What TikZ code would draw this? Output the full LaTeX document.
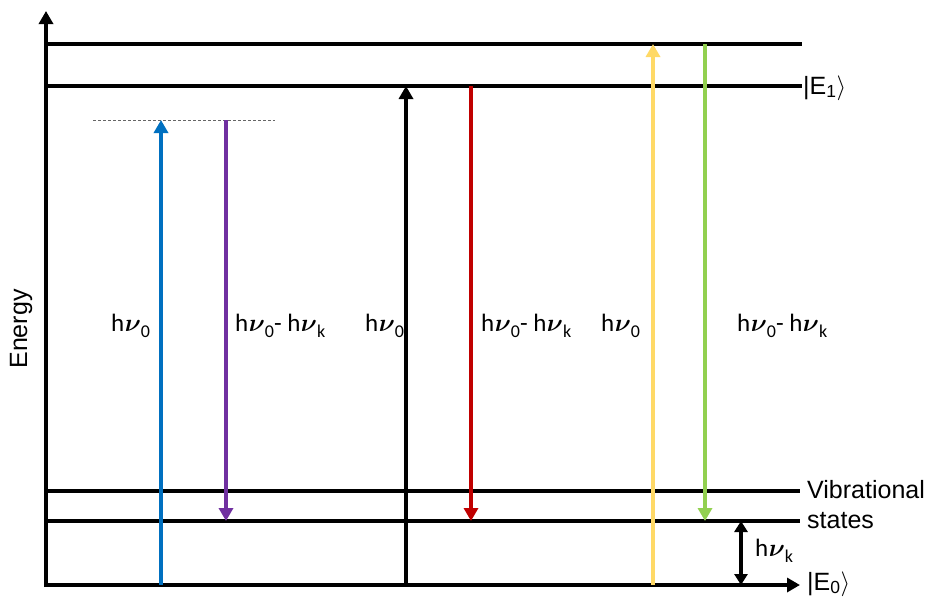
\documentclass[tikz,border=0pt]{standalone}
\usepackage{fontspec}
\setmainfont{Liberation Sans}
\newfontfamily\calib{Carlito}
\usepackage{bm}
\usetikzlibrary{arrows.meta}
\definecolor{cblue}{HTML}{0070C0}
\definecolor{cpurple}{HTML}{7030A0}
\definecolor{cred}{HTML}{C00000}
\definecolor{cyellow}{HTML}{FFD966}
\definecolor{cgreen}{HTML}{92D050}
\tikzset{
  level/.style={line width=3.8pt},
  axisline/.style={line width=3.8pt,-{Triangle[width=14pt,length=13pt]}},
  trans/.style={line width=3.6pt,-{Triangle[width=14pt,length=13pt]}},
  lbl/.style={font=\fontsize{25}{30}\selectfont,anchor=west,inner sep=0pt},
  hlbl/.style={font=\calib\fontsize{25}{30}\selectfont,anchor=west,inner sep=0pt},
}
\newcommand{\mysub}[1]{\raisebox{-0.22em}{\fontsize{18}{20}\selectfont #1}}
\newcommand{\hnu}[1]{h\kern0.5pt$\bm{\nu}$\mysub{#1}}
\begin{document}
\begin{tikzpicture}[x=1pt,y=-1pt]
\useasboundingbox (0,0) rectangle (930,598);
% coordinates
\coordinate (Ytop) at (46,11);
\coordinate (Xend) at (800,585);
\coordinate (T0) at (46,44);  \coordinate (T1) at (802,44);
\coordinate (E0) at (46,86);  \coordinate (E1) at (802,86);
\coordinate (V0) at (46,491); \coordinate (V1) at (800,491);
\coordinate (S0) at (46,521); \coordinate (S1) at (800,521);
\coordinate (D0) at (93,120); \coordinate (D1) at (275,120);
\coordinate (Ybot) at (46,587); \coordinate (Xbeg) at (44,585);
% levels
\draw[level] (T0) -- (T1);
\draw[level] (E0) -- (E1);
\draw[level] (V0) -- (V1);
\draw[level] (S0) -- (S1);
\draw[gray!80!black,line width=0.8pt,dash pattern=on 3pt off 2pt] (D0) -- (D1);
% axes
\draw[axisline] (Ybot) -- (Ytop);
\draw[axisline] (Xbeg) -- (Xend);
% transitions
\coordinate (b0) at (161,585); \coordinate (b1) at (161,120);
\coordinate (p0) at (226,120); \coordinate (p1) at (226,521);
\coordinate (k0) at (406,585); \coordinate (k1) at (406,86);
\coordinate (r0) at (471,86);  \coordinate (r1) at (471,521);
\coordinate (y0) at (653,585); \coordinate (y1) at (653,44);
\coordinate (g0) at (705,44);  \coordinate (g1) at (705,521);
\coordinate (h0) at (741,521); \coordinate (h1) at (741,585);
\draw[trans,cblue] (b0) -- (b1);
\draw[trans,cpurple] (p0) -- (p1);
\draw[trans,black] (k0) -- (k1);
\draw[trans,cred] (r0) -- (r1);
\draw[trans,cyellow] (y0) -- (y1);
\draw[trans,cgreen] (g0) -- (g1);
\draw[line width=3.2pt,{Triangle[width=13pt,length=11pt]}-{Triangle[width=13pt,length=11pt]}] (h0) -- (h1);
% labels
\node[hlbl] (l1) at (111,326) {\hnu{0}};
\node[hlbl] (l2) at (235,326) {\hnu{0}- \hnu{k}};
\node[hlbl] (l3) at (365,326) {\hnu{0}};
\node[hlbl] (l4) at (481,326) {\hnu{0}- \hnu{k}};
\node[hlbl] (l5) at (601,326) {\hnu{0}};
\node[hlbl] (l6) at (737,326) {\hnu{0}- \hnu{k}};
\node[hlbl] (l7) at (755,551) {\hnu{k}};
\node[lbl] (e1) at (803,88) {|E\textsubscript{1}$\rangle$};
\node[lbl] (vib) at (807,490) {Vibrational};
\node[lbl] (st) at (807,521) {states};
\node[lbl] (e0) at (807,584) {|E\textsubscript{0}$\rangle$};
\node[font=\fontsize{25}{30}\selectfont,rotate=90,inner sep=0pt] (en) at (21,329) {Energy};
\end{tikzpicture}
\end{document}
